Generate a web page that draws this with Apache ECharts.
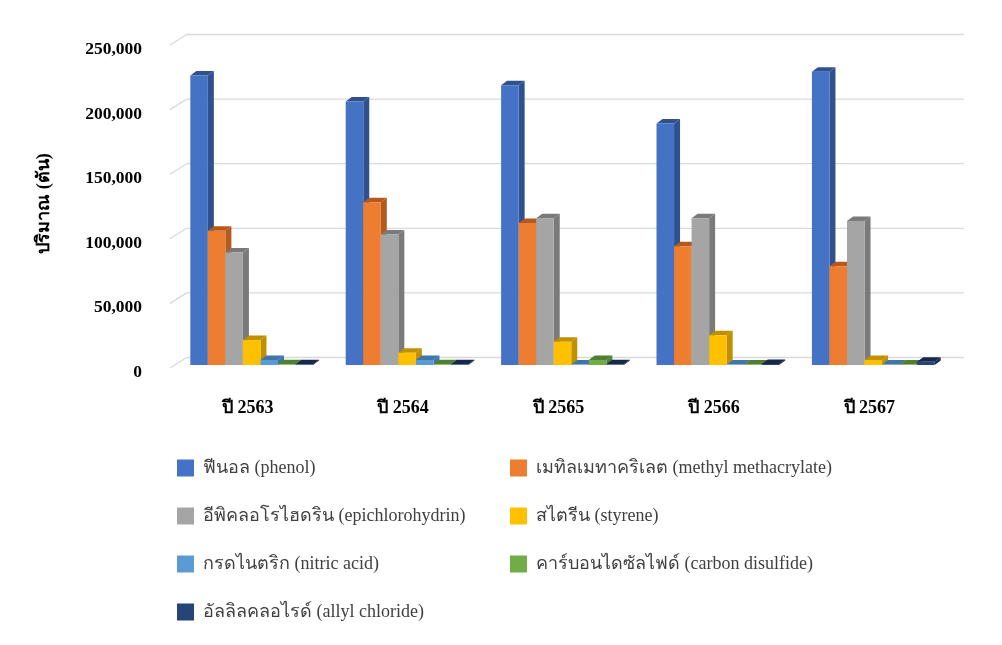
<!DOCTYPE html>
<html>
<head>
<meta charset="utf-8">
<script src="https://cdn.jsdelivr.net/npm/echarts@6/dist/echarts.min.js"></script>
<style>
  html, body { margin: 0; padding: 0; background: #fff; }
  #chart { width: 1002px; height: 645px; }
</style>
</head>
<body>
<div id="chart"></div>
<script>
// Chemical import volume by year (tonnes)
const years = ['ปี 2563', 'ปี 2564', 'ปี 2565', 'ปี 2566', 'ปี 2567'];
const yTicks = [0, 50000, 100000, 150000, 200000, 250000];

const phenol = [224000, 204000, 216500, 187000, 227000];
const methylMethacrylate = [104000, 126000, 110000, 92000, 76500];
const epichlorohydrin = [87000, 101000, 113500, 113500, 111500];
const styrene = [19300, 9500, 18000, 23000, 3900];
const nitricAcid = [3900, 3900, 300, 300, 300];
const carbonDisulfide = [500, 500, 3900, 300, 300];
const allylChloride = [500, 500, 500, 800, 2500];

const SERIES = [
    { name: 'ฟีนอล (phenol)', data: phenol, color: '#4472C4', side: '#2F528F' },
    { name: 'เมทิลเมทาคริเลต (methyl methacrylate)', data: methylMethacrylate, color: '#ED7D31', side: '#B35A1C' },
    { name: 'อีพิคลอโรไฮดริน (epichlorohydrin)', data: epichlorohydrin, color: '#A5A5A5', side: '#7A7A7A' },
    { name: 'สไตรีน (styrene)', data: styrene, color: '#FFC000', side: '#BF9000' },
    { name: 'กรดไนตริก (nitric acid)', data: nitricAcid, color: '#5B9BD5', side: '#3F75A8' },
    { name: 'คาร์บอนไดซัลไฟด์ (carbon disulfide)', data: carbonDisulfide, color: '#70AD47', side: '#4F7F30' },
    { name: 'อัลลิลคลอไรด์ (allyl chloride)', data: allylChloride, color: '#264478', side: '#17294A' },
];

const FONT = '"Liberation Serif", "Times New Roman", serif';
const DEPTH = { dx: 6, dy: -4.5 };       // bar depth
const WALL = { dx: 12.7, dy: -7.5 };     // back wall offset
const FRONT = { dx: -4, dy: 3 };         // front floor edge offset
const GROUP_RATIO = 0.79;

function shade(points, color) {
    return { type: 'polygon', shape: { points }, style: { fill: color } };
}

function barRenderer(si, s) {
    return function (params, api) {
        const idx = api.value(0);
        const top = api.coord([idx, api.value(1)]);
        const base = api.coord([idx, 0]);
        const band = api.size([1, 0])[0];
        const w = band * GROUP_RATIO / SERIES.length;
        const x0 = top[0] - band * GROUP_RATIO / 2 + si * w;
        const x1 = x0 + w;
        const { dx, dy } = DEPTH;
        return {
            type: 'group',
            children: [
                shade([[x1, top[1]], [x1 + dx, top[1] + dy], [x1 + dx, base[1] + dy], [x1, base[1]]], s.side),
                shade([[x0, top[1]], [x0 + dx, top[1] + dy], [x1 + dx, top[1] + dy], [x1, top[1]]], s.side),
                { type: 'rect', shape: { x: x0, y: top[1], width: w, height: base[1] - top[1] }, style: { fill: s.color } },
            ],
        };
    };
}

function wallRenderer(params, api) {
    const v = api.value(0);
    const left = api.coord([-0.5, v]);
    const right = api.coord([4.5, v]);
    const lineStyle = { stroke: '#D9D9D9', lineWidth: 1.3 };
    return {
        type: 'group',
        children: [
            { type: 'line', shape: { x1: left[0] + FRONT.dx, y1: left[1] + FRONT.dy, x2: left[0] + WALL.dx, y2: left[1] + WALL.dy }, style: lineStyle },
            { type: 'line', shape: { x1: left[0] + WALL.dx, y1: left[1] + WALL.dy, x2: right[0] + WALL.dx, y2: right[1] + WALL.dy }, style: lineStyle },
        ],
    };
}

const chart = echarts.init(document.getElementById('chart'), null, { renderer: 'canvas' });

chart.setOption({
    backgroundColor: '#fff',
    animation: false,
    textStyle: { fontFamily: FONT },
    grid: { left: 174, right: 51, top: 42, bottom: 280 },
    legend: {
        left: 172,
        top: 452,
        width: 680,
        icon: 'rect',
        itemWidth: 17,
        itemHeight: 17,
        itemGap: 26,
        selectedMode: false,
        textStyle: {
            fontFamily: FONT, fontSize: 18, color: '#404040',
            width: 281, height: 22, lineHeight: 22, padding: [0, 0, 0, 4],
        },
        data: SERIES.map(s => s.name),
    },
    xAxis: [
        {
            type: 'category',
            data: years,
            axisLine: { show: false },
            axisTick: { show: false },
            axisLabel: {
                margin: 34, padding: [0, 8, 0, 0],
                fontFamily: FONT, fontSize: 18, fontWeight: 'bold', color: '#000',
            },
        },
        { type: 'value', min: -0.5, max: 4.5, show: false },
    ],
    yAxis: {
        type: 'value',
        min: 0,
        max: 250000,
        interval: 50000,
        name: 'ปริมาณ (ตัน)',
        nameLocation: 'middle',
        nameRotate: 90,
        nameGap: 121,
        nameTextStyle: { fontFamily: FONT, fontSize: 18, fontWeight: 'bold', color: '#000' },
        axisLine: { show: false },
        axisTick: { show: false },
        splitLine: { show: false },
        axisLabel: {
            margin: 32,
            verticalAlign: 'top',
            lineHeight: 15,
            fontFamily: FONT,
            fontSize: 17.5,
            fontWeight: 'bold',
            color: '#000',
            formatter: v => v.toLocaleString('en-US'),
        },
    },
    series: [
        {
            type: 'custom',
            xAxisIndex: 1,
            silent: true,
            z: 1,
            data: yTicks.map(v => [v]),
            renderItem: wallRenderer,
        },
        ...SERIES.map((s, si) => ({
            name: s.name,
            type: 'custom',
            xAxisIndex: 1,
            z: 2,
            itemStyle: { color: s.color },
            data: s.data.map((v, i) => [i, v]),
            renderItem: barRenderer(si, s),
        })),
    ],
});
</script>
</body>
</html>
